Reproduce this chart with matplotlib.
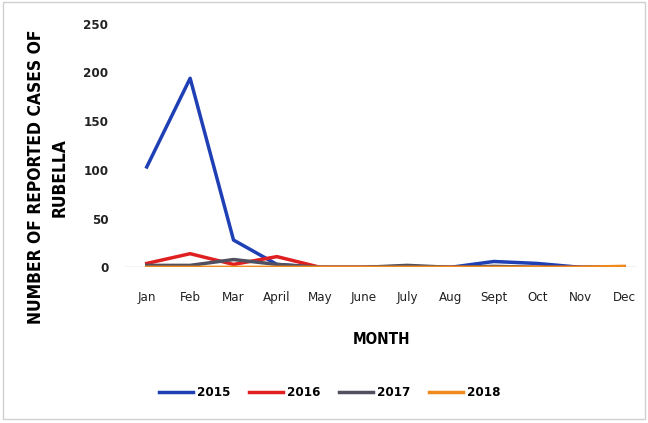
import matplotlib.pyplot as plt

months = ["Jan", "Feb", "Mar", "April", "May", "June", "July", "Aug", "Sept", "Oct", "Nov", "Dec"]
cases_2015 = [103, 194, 28, 3, 0, 0, 1, 0, 6, 4, 0, 0]
cases_2016 = [4, 14, 3, 11, 0, 0, 0, 0, 0, 0, 0, 0]
cases_2017 = [2, 2, 8, 3, 0, 0, 2, 0, 1, 0, 0, 0]
cases_2018 = [0, 0, 0, 0, 0, 0, 0, 0, 0, 0, 0, 1]

plt.rcParams["font.family"] = "DejaVu Sans"
plt.rcParams["font.stretch"] = "condensed"

fig = plt.figure(figsize=(6.48, 4.23), dpi=100)
ax = fig.add_axes([0.193, 0.368, 0.79, 0.576])

x = range(len(months))
ax.plot(x, cases_2015, color="#1f3fb4", lw=2.5, label="2015")
ax.plot(x, cases_2016, color="#e02020", lw=2.5, label="2016")
ax.plot(x, cases_2017, color="#505060", lw=2.5, label="2017")
ax.plot(x, cases_2018, color="#f08a1c", lw=2.5, label="2018")

ax.set_xlim(-0.5, 11.3)
ax.set_ylim(0, 250)
ax.set_yticks([0, 50, 100, 150, 200, 250])
ax.set_xticks(list(x))
ax.set_xticklabels(months)
for s in ax.spines.values():
    s.set_visible(False)
ax.axhline(0, color="#c8c8c8", lw=1, zorder=0)
ax.tick_params(length=0, labelsize=9.5, colors="#222222")
ax.tick_params(axis="x", pad=17)
ax.tick_params(axis="y", pad=12)
for lab in ax.get_yticklabels():
    lab.set_fontweight("bold")

ax.set_xlabel("MONTH", fontsize=11, fontweight="bold", labelpad=20)
ax.set_ylabel("NUMBER OF REPORTED CASES OF\nRUBELLA", fontsize=12.5, fontweight="bold",
              linespacing=1.4)
ax.yaxis.set_label_coords(-0.11, 0.37)

ax.legend(loc="upper center", bbox_to_anchor=(0.40, -0.44), ncol=4, frameon=False,
          handlelength=2.6, columnspacing=1.4, handletextpad=0.3,
          prop={"weight": "bold", "size": 9.5})

fig.patches.append(plt.Rectangle((0.005, 0.01), 0.99, 0.985, transform=fig.transFigure,
                                 fill=False, edgecolor="#d0d0d0", lw=1))

fig.savefig("out.png", dpi=100)
